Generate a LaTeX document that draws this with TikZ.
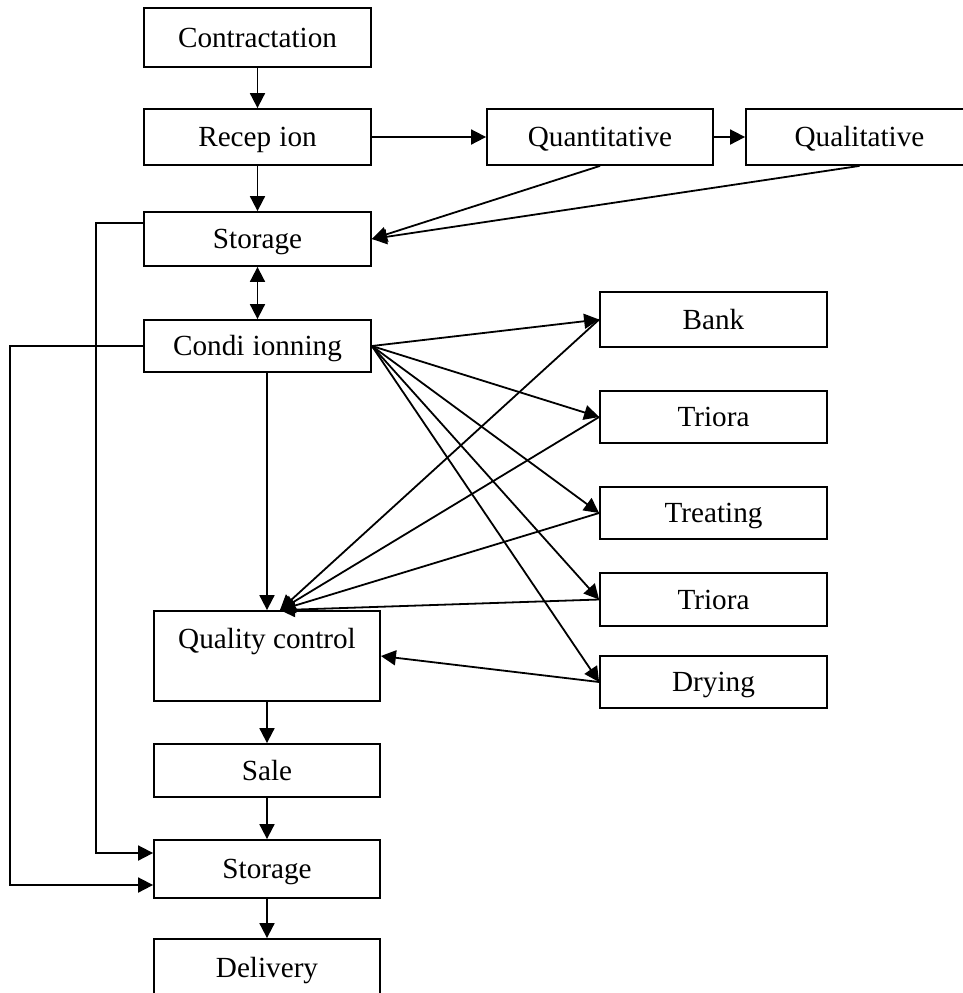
\documentclass[tikz,border=0pt]{standalone}
\usepackage{fontspec}
\setmainfont{Liberation Serif}
\usetikzlibrary{arrows.meta}
\begin{document}
\begin{tikzpicture}[x=0.5pt,y=-0.5pt,
  box/.style={draw, line width=0.9pt, inner sep=0pt, minimum width=113.5pt,
    font=\fontsize{14.6}{17.5}\selectfont, text height=9.7pt, text depth=0pt},
  tip/.style={Triangle[length=7.5pt,width=7.5pt]},
  arr/.style={line width=0.9pt, -{Triangle[length=7.5pt,width=7.5pt]}},
  darr/.style={line width=0.9pt, {Triangle[length=7.5pt,width=7.5pt]}-{Triangle[length=7.5pt,width=7.5pt]}}]
\useasboundingbox (0,0) rectangle (963,993);
\clip (0,0) rectangle (963,993);
\node[box, minimum height=29.5pt] (contr) at (257.5,37.5) {Contractation};
\node[box, minimum height=28pt] (recep) at (257.5,137) {Recep\hspace{0.278em}ion};
\node[box, minimum width=113pt, minimum height=28pt] (quant) at (600,137) {Quantitative};
\node[box, minimum height=28pt] (qual) at (859.5,137) {Qualitative};
\node[box, minimum height=27pt] (stor1) at (257.5,239) {Storage};
\node[box, minimum height=26pt] (cond) at (257.5,346) {Condi\hspace{0.278em}ionning};
\node[box, minimum height=27.5pt] (bank) at (713.5,319.5) {Bank};
\node[box, minimum height=26pt] (tri1) at (713.5,417) {Triora};
\node[box, minimum height=26pt] (treat) at (713.5,513) {Treating};
\node[box, minimum height=26.5pt] (tri2) at (713.5,599.5) {Triora};
\node[box, minimum height=26pt] (dry) at (713.5,682) {Drying};
\node[box, minimum width=113pt, minimum height=45pt, text depth=17.5pt] (qc) at (267,656) {Quality control};
\node[box, minimum width=113pt, minimum height=26.5pt] (sale) at (267,770.5) {Sale};
\node[box, minimum width=113pt, minimum height=29pt] (stor2) at (267,869) {Storage};
\node[box, minimum width=113pt, minimum height=29pt] (deliv) at (267,968) {Delivery};
\coordinate (qcin) at ([xshift=6.5pt]qc.north);

\draw[arr] (contr.south) -- (recep.north);
\draw[arr] (recep.south) -- (stor1.north);
\draw[darr] (stor1.south) -- (cond.north);
\draw[arr] (recep.east) -- (quant.west);
\draw[arr] (quant.east) -- (qual.west);
\draw[arr] (quant.south) -- (stor1.east);
\draw[arr] (qual.south) -- (stor1.east);
\draw[arr] ([yshift=8pt]stor1.west) -- ++(-47,0) |- ([yshift=8pt]stor2.west);
\draw[arr] (cond.west) -- ++(-133,0) |- ([yshift=-8pt]stor2.west);
\draw[arr] (cond.south -| qc.north) -- (qc.north);
\foreach \t in {bank,tri1,treat,tri2}{
  \draw[arr] (cond.east) -- (\t.west);
  \draw[arr] (\t.west) -- (qcin);
}
\draw[arr] (cond.east) -- (dry.west);
\draw[arr] (dry.west) -- (qc.east);
\draw[arr] (qc.south) -- (sale.north);
\draw[arr] (sale.south) -- (stor2.north);
\draw[arr] (stor2.south) -- (deliv.north);
\end{tikzpicture}
\end{document}
